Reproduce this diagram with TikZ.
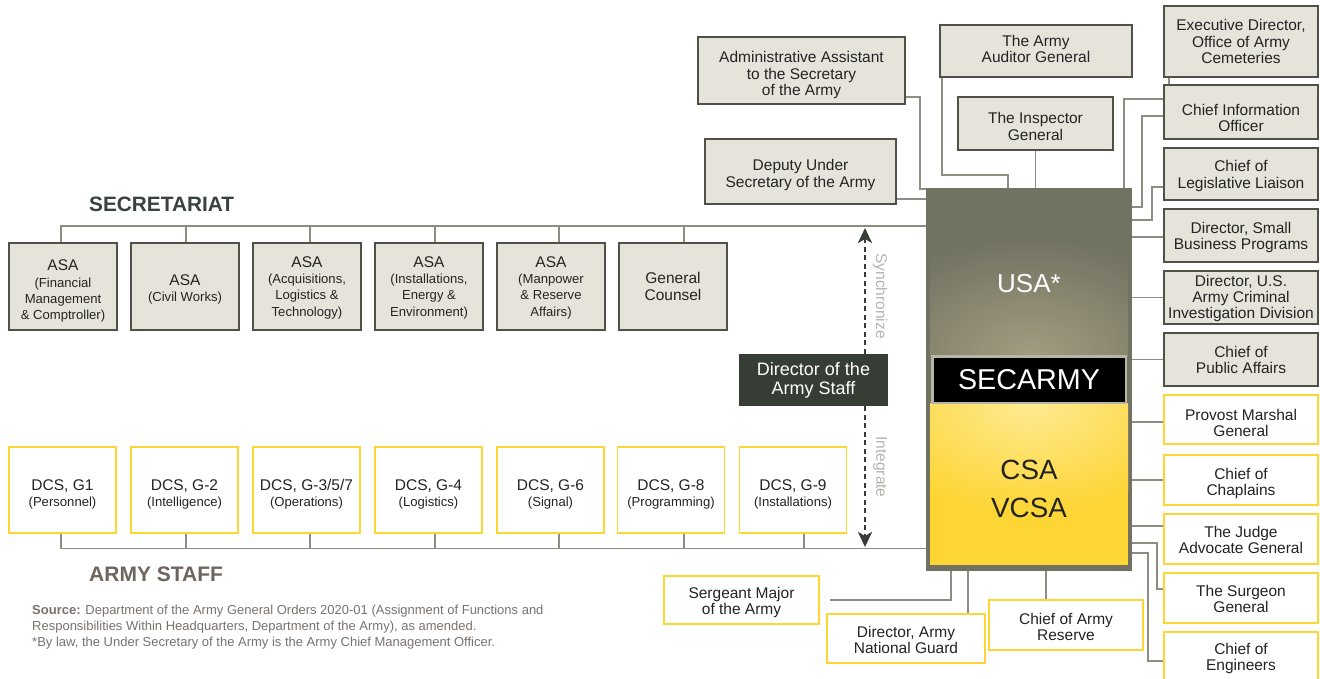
\documentclass[tikz,border=0pt]{standalone}
\usepackage{fontspec}
\setmainfont{Liberation Sans}
\usetikzlibrary{arrows.meta}
\definecolor{boxfill}{HTML}{E6E4DA}
\definecolor{boxline}{HTML}{505048}
\definecolor{conncol}{HTML}{8D8D82}
\definecolor{yel}{HTML}{FDD535}
\definecolor{maingray}{HTML}{727262}
\definecolor{glowtan}{HTML}{A39C80}
\definecolor{glowyel}{HTML}{FFEA92}
\definecolor{dirbg}{HTML}{353D35}
\definecolor{synccol}{HTML}{B4B4AC}
\definecolor{sectitle}{HTML}{38433B}
\definecolor{stafftitle}{HTML}{6E655D}
\definecolor{srccol}{HTML}{7A726C}
\definecolor{txt}{HTML}{232323}
\definecolor{secborder}{HTML}{B4B6A6}
\newcommand\fA{\fontsize{15.5}{16.2}\selectfont}
\newcommand\fB{\fontsize{13.1}{16.6}\selectfont}
\newcommand\fC{\fontsize{13.1}{17}\selectfont}
\newcommand\dn[1]{\rule{0pt}{#1pt}}
\newcommand\upd[1]{\rule[-#1pt]{0pt}{#1pt}}
\tikzset{
  gbox/.style={draw=boxline, fill=boxfill, line width=1.3pt, inner sep=0pt, align=center, font=\fA, text=txt},
  ybox/.style={draw=yel, fill=white, line width=1.5pt, inner sep=0pt, align=center, font=\fA, text=txt},
  asabox/.style={gbox, minimum width=108pt, minimum height=87pt},
  dcsbox/.style={ybox, minimum width=107pt, minimum height=86pt},
  rgbox/.style={gbox, minimum width=154pt},
  rybox/.style={ybox, minimum width=154pt},
  conn/.style={draw=conncol, line width=1.4pt},
  darrow/.style={draw=dirbg, line width=2.6pt, dash pattern=on 5pt off 3.5pt, -{Stealth[length=15pt,width=14pt,inset=4pt]}},
  title/.style={anchor=base west, inner sep=0pt},
  srcline/.style={anchor=base west, inner sep=0pt, font=\fontsize{13}{16}\selectfont, text=srccol},
  vlabel/.style={rotate=-90, text=synccol, inner sep=0pt, font=\fontsize{15.5}{16}\selectfont}
}
\begin{document}
\begin{tikzpicture}[x=1pt, y=-1pt]
\useasboundingbox (0,0) rectangle (1320,679);
\fill[white] (0,0) rectangle (1320,679);

% ---- main box ----
\node[fill=maingray, minimum width=206pt, minimum height=383pt, inner sep=0pt] (main) at (1029,379.5) {};
\begin{scope}
  \clip (930,190) rectangle (1128,356);
  \shade[inner color=glowtan, outer color=maingray] (1030,356) ellipse [x radius=185, y radius=120];
\end{scope}
\fill[yel] (930,403) rectangle (1128,565);
\begin{scope}
  \clip (930,403) rectangle (1128,565);
  \shade[inner color=glowyel, outer color=yel] (1030,403) ellipse [x radius=170, y radius=110];
\end{scope}
\node[text=white, inner sep=0pt, font=\fontsize{26}{28}\selectfont] (usa) at (1029,284) {USA*};
\node[draw=secborder, line width=2.5pt, fill=black, minimum width=193.5pt, minimum height=46.5pt, inner sep=0pt, text=white, font=\fontsize{28.7}{30}\selectfont] (sec) at (1029,379.5) {SECARMY};
\node[align=center, inner sep=0pt, text=txt, font=\fontsize{27.8}{38}\selectfont] (csa) at (1029,489) {CSA\\VCSA};

% ---- upper boxes ----
\node[gbox, minimum width=207pt, minimum height=67pt] (adm) at (801.5,70.5) {\dn{20.3}Administrative Assistant\\to the Secretary\\of the Army};
\node[gbox, minimum width=191pt, minimum height=65pt] (dus) at (800.5,171.5) {\dn{18.3}Deputy Under\\Secretary of the Army};
\node[gbox, minimum width=192pt, minimum height=52pt] (aag) at (1036,51) {The Army\\Auditor General\upd{4}};
\node[gbox, minimum width=155pt, minimum height=53pt] (ig) at (1035.5,123.5) {\dn{17.3}The Inspector\\General};

% ---- right column ----
\node[rgbox, minimum height=71pt] (exd) at (1241,41.5) {Executive Director,\\Office of Army\\Cemeteries};
\node[rgbox, minimum height=54pt] (cio) at (1241,112) {\dn{23.3}Chief Information\\Officer};
\node[rgbox, minimum height=52pt] (cll) at (1241,174) {\dn{15.3}Chief of\\Legislative Liaison};
\node[rgbox, minimum height=53pt] (sbp) at (1241,235.5) {\dn{15.3}Director, Small\\Business Programs};
\node[rgbox, minimum height=53pt] (cid) at (1241,297.5) {\dn{13.3}Director, U.S.\\Army Criminal\\Investigation Division};
\node[rgbox, minimum height=53pt] (cpa) at (1241,359.5) {\dn{12.3}Chief of\\Public Affairs};
\node[rybox, minimum height=49pt] (pmg) at (1241,419.5) {\dn{18.3}Provost Marshal\\General};
\node[rybox, minimum height=50pt] (cch) at (1241,480) {\dn{18.3}Chief of\\Chaplains};
\node[rybox, minimum height=50pt] (jag) at (1241,539) {\dn{13.3}The Judge\\Advocate General};
\node[rybox, minimum height=50pt] (tsg) at (1241,598) {\dn{13.3}The Surgeon\\General};
\node[rybox, minimum height=50pt] (coe) at (1241,657) {\dn{14.3}Chief of\\Engineers};

% ---- bottom boxes ----
\node[ybox, minimum width=155pt, minimum height=48pt] (sma) at (741.5,600) {\dn{16.3}Sergeant Major\\of the Army};
\node[ybox, minimum width=158pt, minimum height=49pt] (arng) at (906,638.5) {\dn{14.3}Director, Army\\National Guard};
\node[ybox, minimum width=154pt, minimum height=50pt] (car) at (1066,625) {\dn{15.3}Chief of Army\\Reserve};

% ---- secretariat ----
\node[title, font=\bfseries\fontsize{20.8}{22}\selectfont, text=sectitle] (sect) at (89,212) {SECRETARIAT};
\node[asabox] (a1) at (63,286.5) {\dn{20.3}ASA\\\fB (Financial\\\fB Management\\\fB \& Comptroller)};
\node[asabox] (a2) at (185,286.5) {\dn{16.3}ASA\\\fB (Civil Works)};
\node[asabox] (a3) at (307,286.5) {\dn{13.3}ASA\\\fB (Acquisitions,\\\fB Logistics \&\\\fB Technology)};
\node[asabox] (a4) at (429,286.5) {\dn{13.3}ASA\\\fB (Installations,\\\fB Energy \&\\\fB Environment)};
\node[asabox] (a5) at (551,286.5) {\dn{13.3}ASA\\\fB (Manpower\\\fB \& Reserve\\\fB Affairs)};
\node[asabox] (a6) at (673,286.5) {General\\Counsel};

% ---- army staff ----
\node[dcsbox] (d1) at (62.5,490) {\dn{19.3}DCS, G1\\\fC (Personnel)};
\node[dcsbox] (d2) at (184.5,490) {\dn{19.3}DCS, G-2\\\fC (Intelligence)};
\node[dcsbox] (d3) at (306.5,490) {\dn{19.3}DCS, G-3/5/7\\\fC (Operations)};
\node[dcsbox] (d4) at (428.5,490) {\dn{19.3}DCS, G-4\\\fC (Logistics)};
\node[dcsbox] (d5) at (550.5,490) {\dn{19.3}DCS, G-6\\\fC (Signal)};
\node[dcsbox] (d6) at (671,490) {\dn{19.3}DCS, G-8\\\fC (Programming)};
\node[dcsbox] (d7) at (793,490) {\dn{19.3}DCS, G-9\\\fC (Installations)};
\node[title, font=\bfseries\fontsize{21}{22}\selectfont, text=stafftitle] (staff) at (89,581) {ARMY STAFF};

% ---- director of the army staff ----
\node[fill=dirbg, minimum width=149pt, minimum height=52pt, inner sep=0pt, text=white, align=center, font=\fontsize{18}{19}\selectfont] (dir) at (813.5,380) {Director of the\\Army Staff};
\node[vlabel] (sync) at (880,296) {Synchronize};
\node[vlabel] (integ) at (880,467) {Integrate};

% ---- source ----
\node[srcline] (src1) at (32,614) {\textbf{Source:} Department of the Army General Orders 2020-01 (Assignment of Functions and};
\node[srcline] (src2) at (32,630) {Responsibilities Within Headquarters, Department of the Army), as amended.};
\node[srcline] (src3) at (32,646) {*By law, the Under Secretary of the Army is the Army Chief Management Officer.};

% ---- buses ----
\coordinate (secbus) at (0,226);
\coordinate (stfbus) at (0,548.5);
\draw[conn] (a1.north -| 61,0) |- (main.west |- secbus);
\foreach \n/\xx in {a2/186, a3/310, a4/435, a5/559, a6/684}
  \draw[conn] (\n.north -| \xx,0) -- (secbus -| \xx,0);
\draw[conn] (d1.south -| 61,0) |- (main.west |- stfbus);
\foreach \n/\xx in {d2/186, d3/310, d4/435, d5/559, d6/684, d7/804}
  \draw[conn] (\n.south -| \xx,0) -- (stfbus -| \xx,0);

% ---- arrows ----
\coordinate (synctip) at (865,228);
\coordinate (integtip) at (865,547);
\draw[darrow] (dir.north -| synctip) -- (synctip);
\draw[darrow] (dir.south -| integtip) -- (integtip);

% ---- connectors to main ----
\draw[conn] (adm.east |- 0,97) -| (920,189) -- (main.west |- 0,189);
\draw[conn] (dus.east |- 0,199) -- (main.west |- 0,199);
\draw[conn] (aag.south -| 942,0) |- (1008,175) -- (main.north -| 1008,0);
\draw[conn] (ig.south) -- (main.north -| ig.south);
\draw[conn] (exd.south -| 1169,0) -- (cio.north -| 1169,0);
\draw[conn] (cio.west |- 0,99) -| (main.north -| 1124,0);
\draw[conn] (cio.west |- 0,116) -| (1142,207) -- (main.east |- 0,207);
\draw[conn] (cll.west |- 0,187) -| (1152,220) -- (main.east |- 0,220);
\draw[conn] (sbp.west |- 0,237) -- (main.east |- 0,237);
\draw[conn] (cid.west) -- (cid.west -| main.east);
\draw[conn] (cpa.west) -- (cpa.west -| main.east);
\draw[conn] (pmg.west |- 0,422) -- (main.east |- 0,422);
\draw[conn] (cch.west) -- (cch.west -| main.east);
\draw[conn] (jag.west |- 0,526) -- (main.east |- 0,526);
\draw[conn] (main.east |- 0,543) -| (1157,589) -- (tsg.west |- 0,589);
\draw[conn] (main.east |- 0,553) -| (1148,661) -- (coe.west |- 0,661);
\draw[conn] (main.south -| 1046,0) -- (car.north -| 1046,0);
\draw[conn] (main.south -| 968,0) -- (arng.north -| 968,0);
\draw[conn] (main.south -| 951,0) |- ([xshift=10pt]sma.east);
\end{tikzpicture}
\end{document}
